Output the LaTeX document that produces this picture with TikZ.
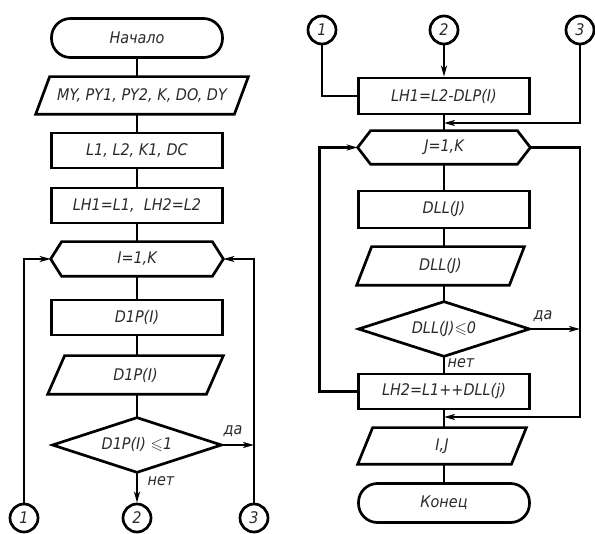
\documentclass[tikz,border=0pt]{standalone}
\usepackage{fontspec}
\setmainfont[FakeStretch=0.9]{DejaVu Sans}
\usepackage{amssymb}
\usetikzlibrary{arrows.meta}
\definecolor{txtgray}{HTML}{2A2A2A}
\newcommand\flowfont{\fontsize{16}{18}\selectfont\itshape\color{txtgray}}
\newcommand\parashape[2]{\draw ([xshift=#2]#1.north west) -- (#1.north east) -- ([xshift=-#2]#1.south east) -- (#1.south west) -- cycle;}
\newcommand\hexshape[2]{\draw (#1.west) -- ([xshift=#2]#1.north west) -- ([xshift=-#2]#1.north east) -- (#1.east) -- ([xshift=-#2]#1.south east) -- ([xshift=#2]#1.south west) -- cycle;}
\newcommand\diashape[1]{\draw (#1.west) -- (#1.north) -- (#1.east) -- (#1.south) -- cycle;}
\begin{document}
\begin{tikzpicture}[x=1pt,y=-1pt, line width=2.7pt,
  font=\flowfont,
  box/.style={draw, rectangle, minimum width=171pt, minimum height=35pt, inner sep=0pt},
  term/.style={draw, rectangle, rounded corners=19pt, minimum width=171pt, minimum height=39pt, inner sep=0pt},
  shp/.style={rectangle, minimum height=35pt, inner sep=0pt},
  conn/.style={draw, circle, minimum size=28pt, inner sep=0pt},
  lbl/.style={inner sep=0pt},
  arr/.style={-{Stealth[length=11pt,width=6pt,inset=3pt]}}]
\useasboundingbox (0,0) rectangle (595,534);
% left column
\node[term] (start) at (137,38) {Начало};
\node[shp, minimum width=210pt] (in1) at (142,95.5) {MY, PY1, PY2, K, DO, DY};
\parashape{in1}{14pt}
\node[box] (p1) at (137,150.5) {L1, L2, K1, DC};
\node[box] (p2) at (137,205.5) {LH1=L1,\ \ LH2=L2};
\node[shp, minimum width=170pt, minimum height=32pt] (hex1) at (137,259) {I=1,K};
\hexshape{hex1}{11pt}
\node[box] (p3) at (137,317.5) {D1P(I)};
\node[shp, minimum width=173pt, minimum height=36pt] (in2) at (135.5,375) {D1P(I)};
\parashape{in2}{17pt}
\node[shp, minimum width=166pt, minimum height=52pt] (dec1) at (137,445) {D1P(I) $\leqslant$1};
\diashape{dec1}
\node[conn] (c1L) at (24,518) {1};
\node[conn] (c2L) at (137,518) {2};
\node[conn] (c3L) at (254,518) {3};
\coordinate (j1) at (254,445);
\draw (start.south) -- (start.south |- in1.north);
\draw (start.south |- in1.south) -- (p1.north);
\draw (p1.south) -- (p2.north);
\draw (p2.south) -- (hex1.north);
\draw (hex1.south) -- (p3.north);
\draw (p3.south) -- (p3.south |- in2.north);
\draw (p3.south |- in2.south) -- (dec1.north);
\draw[arr] (c1L.north) |- (hex1.west);
\draw[arr] (c3L.north) |- (hex1.east);
\draw[arr] (dec1.east) -- (j1);
\draw[arr] (dec1.south) -- (c2L.north);
\node[lbl] (da1) at (233,431) {да};
\node[lbl] (net1) at (161,481) {нет};
% right column
\node[conn] (c1R) at (322,30) {1};
\node[conn] (c2R) at (444,30) {2};
\node[conn] (c3R) at (580,30) {3};
\node[box, minimum height=36pt] (b1) at (444,96) {LH1=L2-DLP(I)};
\node[shp, minimum width=170pt, minimum height=31pt] (hex2) at (444,147.5) {J=1,K};
\hexshape{hex2}{13pt}
\node[box, minimum height=37pt] (b2) at (444,209.5) {DLL(J)};
\node[shp, minimum width=165pt, minimum height=36pt] (in3) at (440.5,266) {DLL(J)};
\parashape{in3}{15pt}
\node[shp, minimum width=168pt, minimum height=52pt] (dec2) at (444,329) {DLL(J)$\leqslant$0};
\diashape{dec2}
\node[box] (b3) at (444,391.5) {LH2=L1++DLL(j)};
\node[shp, minimum width=166pt, minimum height=34pt] (in4) at (442,446) {I,J};
\parashape{in4}{15pt}
\node[term] (end) at (444,503) {Конец};
\coordinate (m1) at (444,123);
\coordinate (m2) at (444,417);
\coordinate (j2) at (580,329);
\draw (c1R.south) |- (b1.west);
\draw[arr] (c2R.south) -- (b1.north);
\draw[arr] (c3R.south) |- (m1);
\draw (b1.south) -- (hex2.north);
\draw (hex2.south) -- (b2.north);
\draw (b2.south) -- (b2.south |- in3.north);
\draw (b2.south |- in3.south) -- (dec2.north);
\draw (dec2.south) -- (b3.north);
\draw[arr] (b3.west) -- ++(-38,0) |- (hex2.west);
\draw[arr] (hex2.east) -| (580,417) -- (m2);
\draw[arr] (dec2.east) -- (j2);
\draw (b3.south) -- (b3.south |- in4.north);
\draw (b3.south |- in4.south) -- (end.north);
\node[lbl] (da2) at (543,316) {да};
\node[lbl] (net2) at (461,363) {нет};
\end{tikzpicture}
\end{document}
